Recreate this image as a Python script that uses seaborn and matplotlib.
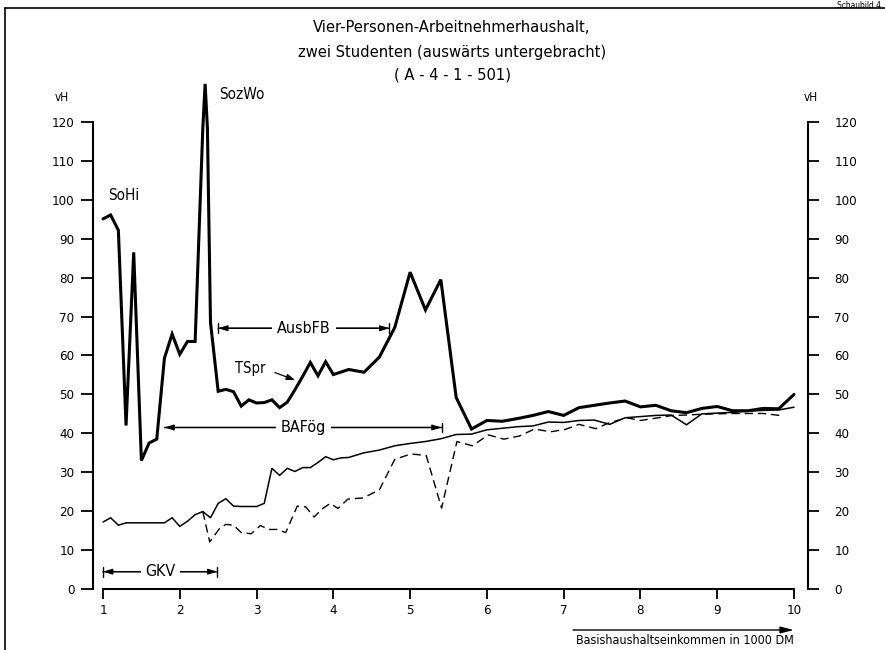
import matplotlib
matplotlib.use("Agg")
import matplotlib.pyplot as plt
from matplotlib.lines import Line2D
from matplotlib import font_manager
import seaborn as sns
import pandas as pd

# --- data -------------------------------------------------------------
# Transferentzug (TSpr), vH of the basic household income, 1000 DM steps
x_tspr = [1.0, 1.1, 1.2, 1.3, 1.4, 1.5, 1.6, 1.7, 1.8, 1.9, 2.0, 2.1, 2.2,
          2.3, 2.33, 2.36, 2.4, 2.5, 2.6, 2.7, 2.8, 2.9, 3.0, 3.1, 3.2, 3.3,
          3.4, 3.5, 3.6, 3.7, 3.8, 3.9, 4.0, 4.2, 4.4, 4.6, 4.8, 5.0, 5.2,
          5.4, 5.6, 5.8, 6.0, 6.2, 6.4, 6.6, 6.8, 7.0, 7.2, 7.4, 7.6, 7.8,
          8.0, 8.2, 8.4, 8.6, 8.8, 9.0, 9.2, 9.4, 9.6, 9.8, 10.0]
y_tspr = [95.1, 96.1, 92.2, 42.0, 86.5, 33.0, 37.5, 38.5, 59.3, 65.5, 60.3,
          63.6, 63.6, 118.4, 129.8, 118.4, 68.5, 50.8, 51.3, 50.7, 47.0,
          48.6, 47.8, 47.9, 48.6, 46.6, 48.0, 51.2, 54.6, 58.2, 54.8, 58.4,
          55.1, 56.4, 55.7, 59.6, 67.2, 81.4, 71.7, 79.5, 49.2, 41.1, 43.3,
          43.1, 43.8, 44.6, 45.6, 44.6, 46.6, 47.2, 47.8, 48.3, 46.8, 47.2,
          45.8, 45.3, 46.4, 46.9, 45.8, 45.8, 46.4, 46.3, 50.0]

x_thin = [1.0, 1.1, 1.2, 1.3, 1.4, 1.5, 1.6, 1.7, 1.8, 1.9, 2.0, 2.1, 2.2,
          2.3, 2.4, 2.5, 2.6, 2.7, 2.8, 2.9, 3.0, 3.1, 3.2, 3.3, 3.4, 3.5,
          3.6, 3.7, 3.8, 3.9, 4.0, 4.1, 4.2, 4.4, 4.6, 4.8, 5.0, 5.2, 5.4,
          5.6, 5.8, 6.0, 6.2, 6.4, 6.6, 6.8, 7.0, 7.2, 7.4, 7.6, 7.8, 8.0,
          8.2, 8.4, 8.6, 8.8, 9.0, 9.2, 9.4, 9.6, 9.8, 10.0]
y_thin = [17.2, 18.3, 16.4, 17.0, 17.0, 17.0, 17.0, 17.0, 17.0, 18.3, 16.1,
          17.4, 19.1, 19.9, 18.3, 22.0, 23.2, 21.3, 21.2, 21.2, 21.2, 22.0,
          31.0, 29.2, 31.0, 30.2, 31.2, 31.2, 32.5, 34.0, 33.2, 33.7, 33.8,
          35.0, 35.7, 36.8, 37.4, 37.9, 38.6, 39.7, 39.8, 40.9, 41.3, 41.7,
          41.9, 42.9, 42.8, 43.3, 43.4, 42.3, 44.0, 44.3, 44.6, 44.7, 42.2,
          45.0, 45.2, 45.4, 45.7, 45.9, 46.0, 46.7]

x_dash = [2.3, 2.39, 2.52, 2.6, 2.7, 2.8, 2.93, 3.05, 3.16, 3.27, 3.38, 3.53,
          3.64, 3.75, 3.85, 3.96, 4.06, 4.19, 4.39, 4.6, 4.8, 5.01, 5.21,
          5.41, 5.61, 5.81, 6.02, 6.22, 6.42, 6.62, 6.83, 7.02, 7.2, 7.42,
          7.58, 7.82, 8.0, 8.2, 8.42, 8.6, 8.8, 9.0, 9.2, 9.4, 9.6, 9.81]
y_dash = [19.9, 12.1, 15.6, 16.6, 16.4, 14.5, 14.2, 16.3, 15.3, 15.3, 14.5,
          21.3, 21.1, 18.5, 20.5, 22.0, 20.7, 23.1, 23.4, 25.5, 33.3, 34.7,
          34.3, 20.8, 37.9, 36.8, 39.6, 38.5, 39.3, 41.1, 40.4, 41.0, 42.3,
          41.2, 42.6, 44.0, 43.3, 43.9, 44.6, 44.7, 44.9, 45.0, 45.1, 45.1,
          45.1, 44.6]

x_ticks = [1, 2, 3, 4, 5, 6, 7, 8, 9, 10]
y_ticks = [0, 10, 20, 30, 40, 50, 60, 70, 80, 90, 100, 110, 120]

title_lines = ["Vier-Personen-Arbeitnehmerhaushalt,",
               "zwei Studenten (auswärts untergebracht)",
               "( A - 4 - 1 - 501)"]
x_label = "Basishaushaltseinkommen in 1000 DM"

# --- style ------------------------------------------------------------
sns.set_theme(style="ticks")
# prefer a narrow face when one is installed
_names = {f.name for f in font_manager.fontManager.ttflist}
_narrow = [n for n in ("Liberation Sans Narrow", "DejaVu Sans Condensed")
           if n in _names]
condensed_available = any(
    f.name == "DejaVu Sans" and str(f.stretch) in ("condensed", "semi-condensed")
    for f in font_manager.fontManager.ttflist)
FONT = _narrow + ["DejaVu Sans"]
plt.rcParams["font.family"] = FONT
if not _narrow and condensed_available:
    plt.rcParams["font.stretch"] = "condensed"
plt.rcParams["text.color"] = "black"
plt.rcParams["axes.edgecolor"] = "black"
plt.rcParams["xtick.color"] = "black"
plt.rcParams["ytick.color"] = "black"
narrow = bool(_narrow) or condensed_available
tscale = 1.0 if narrow else 0.82

W, H = 885, 650
fig = plt.figure(figsize=(W / 100, H / 100), dpi=100)
ax = fig.add_axes([103 / W, 61 / H, 691 / W, 525.4 / H])

df_tspr = pd.DataFrame({"x": x_tspr, "y": y_tspr})
df_thin = pd.DataFrame({"x": x_thin, "y": y_thin})
df_dash = pd.DataFrame({"x": x_dash, "y": y_dash})

sns.lineplot(data=df_thin, x="x", y="y", color="black", lw=1.1, ax=ax,
             sort=False, estimator=None)
sns.lineplot(data=df_dash, x="x", y="y", color="black", lw=1.0, ax=ax,
             sort=False, estimator=None, linestyle=(0, (6, 3.5)))
sns.lineplot(data=df_tspr, x="x", y="y", color="black", lw=2.2, ax=ax,
             sort=False, estimator=None)
for ln in ax.lines:
    ln.set_clip_on(False)
    ln.set_solid_joinstyle("miter")

ax.set_xlim(1, 10)
ax.set_ylim(0, 135)
ax.set_xlabel("")
ax.set_ylabel("")
ax.set_xticks(x_ticks)
ax.set_xticklabels([str(t) for t in x_ticks])
ax.set_yticks(y_ticks)
ax.set_yticklabels([str(t) for t in y_ticks])

for s in ("top", "right"):
    ax.spines[s].set_visible(False)
ax.spines["left"].set_position(("outward", 7))
ax.spines["left"].set_bounds(0, 120)
ax.spines["bottom"].set_bounds(1, 10)
for s in ("left", "bottom"):
    ax.spines[s].set_linewidth(1.5)
ax.tick_params(axis="y", direction="out", length=8.5, width=1.3, pad=5,
               labelsize=9.5)
ax.tick_params(axis="x", direction="out", length=7, width=1.3, pad=4,
               labelsize=9.5)

# right-hand duplicate scale
ax2 = ax.twinx()
ax2.set_ylim(0, 135)
ax2.set_yticks(y_ticks)
ax2.set_yticklabels([str(t) for t in y_ticks])
for s in ("top", "left", "bottom"):
    ax2.spines[s].set_visible(False)
ax2.spines["right"].set_position(("outward", 10))
ax2.spines["right"].set_bounds(0, 120)
ax2.spines["right"].set_linewidth(1.5)
ax2.tick_params(axis="y", direction="out", length=8, width=1.3, pad=11,
                labelsize=9.5)
ax2.grid(False)

# unit labels
ax.text(-0.070, 0.936, "vH", transform=ax.transAxes, fontsize=8.5,
        ha="left", va="center")
ax.text(1.014, 0.936, "vH", transform=ax.transAxes, fontsize=8.5,
        ha="left", va="center")

# curve labels
ax.text(1.07, 101, "SoHi", fontsize=11, ha="left", va="center")
ax.text(2.51, 127, "SozWo", fontsize=11, ha="left", va="center")
ax.text(2.72, 56.7, "TSpr", fontsize=10.5, ha="left", va="center")
ax.annotate("", xy=(3.5, 53.7), xytext=(3.24, 55.6),
            arrowprops=dict(arrowstyle="-|>,head_length=0.5,head_width=0.18",
                            color="black", lw=0.9, shrinkA=0, shrinkB=0,
                            mutation_scale=10))


def span(x0, x1, y, label, xc, bar_left=True, bar_right=True):
    ax.annotate("", xy=(x0, y), xytext=(x1, y),
                arrowprops=dict(arrowstyle="<|-|>,head_length=0.55,head_width=0.17",
                                color="black", lw=0.9, shrinkA=0, shrinkB=0,
                                mutation_scale=10))
    wa = 0.35 if bar_left else 0.0
    wb = 0.35 if bar_right else 0.0
    ax.annotate("", xy=(x0, y), xytext=(x1, y),
                arrowprops=dict(arrowstyle=f"|-|,widthA={wb},widthB={wa}",
                                color="black", lw=1.0, shrinkA=0, shrinkB=0,
                                mutation_scale=10))
    ax.text(xc, y, label, fontsize=11.5, ha="center", va="center",
            bbox=dict(facecolor="white", edgecolor="none", pad=3.5))


span(2.50, 4.73, 67.0, "AusbFB", 3.62)
span(1.80, 5.41, 41.5, "BAFög", 3.61, bar_left=False)
span(1.00, 2.49, 4.45, "GKV", 1.75)

# title
for txt, ypix in zip(title_lines, (28, 53, 75)):
    fig.text(452 / W, 1 - ypix / H, txt, ha="center", va="center",
             fontsize=11.8 * tscale)

# axis caption with arrow
fig.text(794 / W, 1 - 641 / H, x_label, ha="right", va="center", fontsize=9)
ax.annotate("", xy=(794, H - 630), xytext=(573, H - 630),
            xycoords="figure pixels", textcoords="figure pixels",
            arrowprops=dict(arrowstyle="-|>,head_length=0.8,head_width=0.2",
                            color="black", lw=1.0, shrinkA=0, shrinkB=0,
                            mutation_scale=10))

# page frame and sheet caption
fig.add_artist(Line2D([5 / W, 5 / W], [0, 1 - 8 / H], transform=fig.transFigure,
                      color="black", lw=1.2))
fig.add_artist(Line2D([5 / W, 1], [1 - 8 / H, 1 - 8 / H],
                      transform=fig.transFigure, color="black", lw=1.2))
fig.text(1 - 4 / W, 1 - 0.5 / H, "Schaubild 4", ha="right", va="top",
         fontsize=6)

fig.savefig("out.png", dpi=100)
